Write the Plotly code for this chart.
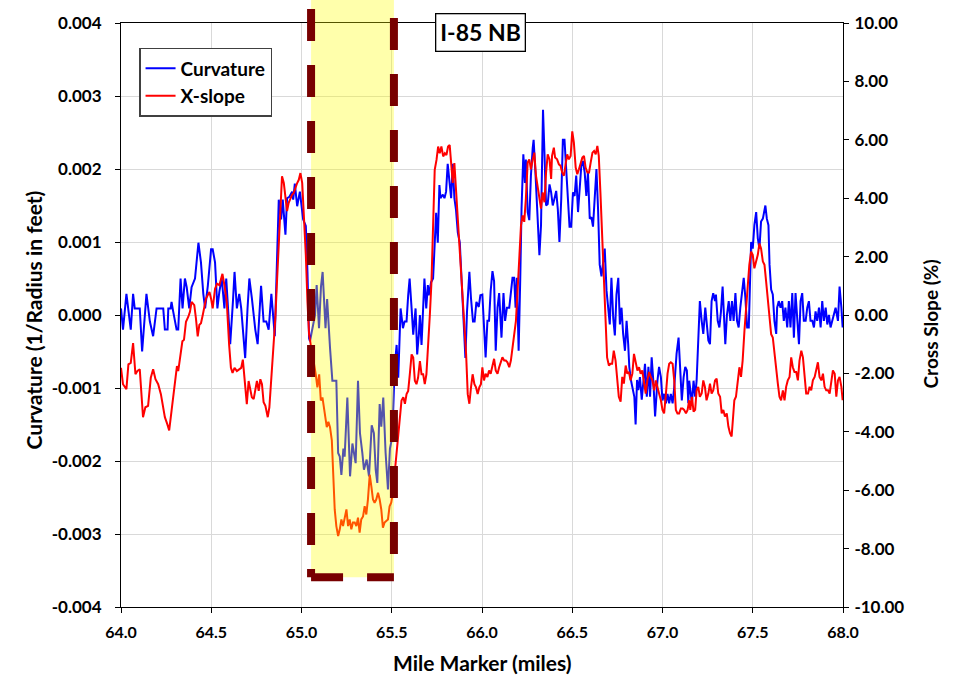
import plotly.graph_objects as go

# ---------------- data ----------------
mile_curv = [
    64.000, 64.011, 64.030, 64.054, 64.067, 64.076, 64.104, 64.117, 64.141, 64.160,
    64.178, 64.197, 64.234, 64.243, 64.258, 64.262, 64.275, 64.280, 64.289, 64.308,
    64.317, 64.330, 64.341, 64.354, 64.364, 64.378, 64.391, 64.410, 64.429, 64.443,
    64.456, 64.466, 64.481, 64.499, 64.508, 64.521, 64.534, 64.545, 64.558, 64.573,
    64.583, 64.605, 64.620, 64.629, 64.642, 64.655, 64.666, 64.688, 64.701, 64.711,
    64.725, 64.744, 64.757, 64.776, 64.790, 64.805, 64.818, 64.833, 64.852, 64.874,
    64.887, 64.896, 64.911, 64.920, 64.933, 64.948, 64.954, 64.963, 64.976, 64.991,
    65.009, 65.024, 65.033, 65.042, 65.047, 65.075, 65.084, 65.097, 65.108, 65.117,
    65.133, 65.142, 65.158, 65.171, 65.193, 65.203, 65.212, 65.221, 65.232, 65.239,
    65.254, 65.269, 65.282, 65.291, 65.300, 65.313, 65.324, 65.337, 65.346, 65.361,
    65.374, 65.389, 65.401, 65.411, 65.420, 65.433, 65.442, 65.453, 65.466, 65.479,
    65.490, 65.503, 65.516, 65.527, 65.536, 65.549, 65.562, 65.571, 65.582, 65.591,
    65.599, 65.610, 65.619, 65.632, 65.641, 65.650, 65.656, 65.665, 65.681, 65.691,
    65.700, 65.705, 65.718, 65.729, 65.737, 65.746, 65.755, 65.764, 65.770, 65.783,
    65.792, 65.801, 65.810, 65.820, 65.829, 65.838, 65.847, 65.856, 65.866, 65.877,
    65.889, 65.899, 65.908, 65.917, 65.930, 65.939, 65.950, 65.959, 65.969, 65.982,
    65.991, 66.002, 66.011, 66.020, 66.030, 66.039, 66.048, 66.058, 66.067, 66.076,
    66.086, 66.095, 66.108, 66.119, 66.128, 66.138, 66.151, 66.160, 66.169, 66.178,
    66.186, 66.193, 66.203, 66.212, 66.219, 66.229, 66.238, 66.243, 66.253, 66.262,
    66.271, 66.281, 66.286, 66.296, 66.309, 66.318, 66.327, 66.338, 66.346, 66.355,
    66.364, 66.374, 66.383, 66.392, 66.401, 66.411, 66.420, 66.429, 66.439, 66.448,
    66.457, 66.467, 66.476, 66.485, 66.494, 66.504, 66.513, 66.522, 66.532, 66.541,
    66.550, 66.559, 66.569, 66.578, 66.587, 66.597, 66.606, 66.615, 66.625, 66.634,
    66.643, 66.652, 66.662, 66.671, 66.680, 66.690, 66.699, 66.708, 66.717, 66.727,
    66.736, 66.745, 66.755, 66.764, 66.773, 66.782, 66.792, 66.801, 66.810, 66.816,
    66.825, 66.835, 66.844, 66.851, 66.859, 66.866, 66.875, 66.885, 66.894, 66.903,
    66.913, 66.922, 66.931, 66.940, 66.950, 66.959, 66.972, 66.981, 66.991, 67.000,
    67.009, 67.019, 67.028, 67.037, 67.046, 67.056, 67.065, 67.078, 67.089, 67.098,
    67.107, 67.117, 67.126, 67.135, 67.143, 67.148, 67.156, 67.163, 67.172, 67.181,
    67.189, 67.198, 67.207, 67.217, 67.226, 67.237, 67.244, 67.254, 67.263, 67.272,
    67.281, 67.291, 67.296, 67.306, 67.315, 67.324, 67.333, 67.343, 67.348, 67.357,
    67.367, 67.376, 67.385, 67.394, 67.404, 67.413, 67.422, 67.431, 67.441, 67.450,
    67.459, 67.469, 67.478, 67.485, 67.491, 67.500, 67.509, 67.519, 67.528, 67.537,
    67.546, 67.556, 67.565, 67.570, 67.578, 67.587, 67.593, 67.602, 67.611, 67.620,
    67.630, 67.635, 67.644, 67.654, 67.663, 67.672, 67.681, 67.691, 67.700, 67.709,
    67.719, 67.728, 67.737, 67.746, 67.756, 67.765, 67.774, 67.783, 67.793, 67.802,
    67.811, 67.820, 67.830, 67.839, 67.848, 67.857, 67.867, 67.876, 67.885, 67.894,
    67.904, 67.913, 67.922, 67.931, 67.941, 67.950, 67.959, 67.972, 67.981, 67.991,
    67.998,
]
curvature = [
    0.00009, -0.00020, 0.00029, -0.00020, 0.00029, 0.00009, 0.00009, -0.00050, 0.00029, -0.00009,
    -0.00029, 0.00009, 0.00009, -0.00020, -0.00020, 0.00009, 0.00009, 0.00018, 0.00005, -0.00020,
    -0.00020, 0.00050, 0.00009, 0.00050, 0.00038, 0.00009, 0.00038, 0.00050, 0.00099, 0.00072,
    0.00029, 0.00009, 0.00040, 0.00090, 0.00090, 0.00072, 0.00009, 0.00032, 0.00050, 0.00009,
    0.00050, -0.00040, 0.00018, 0.00059, 0.00009, 0.00029, 0.00009, -0.00059, 0.00009, 0.00050,
    0.00023, -0.00020, -0.00040, 0.00040, -0.00009, -0.00009, -0.00020, 0.00029, -0.00029, 0.00158,
    0.00131, 0.00158, 0.00110, 0.00160, 0.00162, 0.00169, 0.00158, 0.00180, 0.00149, 0.00169,
    0.00131, 0.00122, 0.00059, -0.00032, -0.00036, 0.00000, 0.00041, -0.00018, 0.00039, 0.00059,
    -0.00018, 0.00022, -0.00045, -0.00090, -0.00090, -0.00189, -0.00194, -0.00219, -0.00183, -0.00194,
    -0.00113, -0.00221, -0.00176, -0.00189, -0.00203, -0.00090, -0.00162, -0.00189, -0.00212, -0.00198,
    -0.00221, -0.00151, -0.00162, -0.00212, -0.00230, -0.00122, -0.00153, -0.00113, -0.00189, -0.00239,
    -0.00183, -0.00167, -0.00072, -0.00041, -0.00086, 0.00009, -0.00018, -0.00009, -0.00009, 0.00027,
    0.00050, 0.00009, -0.00027, 0.00009, -0.00054, -0.00027, 0.00000, -0.00041, 0.00050, 0.00009,
    0.00041, 0.00027, 0.00045, 0.00050, 0.00099, 0.00140, 0.00099, 0.00178, 0.00160, 0.00165,
    0.00160, 0.00169, 0.00207, 0.00183, 0.00160, 0.00207, 0.00160, 0.00144, 0.00113, 0.00099,
    0.00041, 0.00000, -0.00059, 0.00005, 0.00059, 0.00023, -0.00009, -0.00009, 0.00018, 0.00011,
    0.00027, 0.00028, -0.00013, -0.00058, -0.00008, -0.00008, 0.00033, 0.00060, 0.00046, -0.00049,
    0.00010, 0.00030, -0.00031, 0.00030, -0.00008, 0.00010, 0.00010, 0.00033, 0.00051, 0.00051,
    0.00010, 0.00051, -0.00049, 0.00051, 0.00145, 0.00220, 0.00181, 0.00213, 0.00141, 0.00130,
    0.00191, 0.00229, 0.00240, 0.00195, 0.00123, 0.00082, 0.00123, 0.00281, 0.00222, 0.00150,
    0.00152, 0.00179, 0.00168, 0.00150, 0.00159, 0.00170, 0.00145, 0.00100, 0.00159, 0.00240,
    0.00240, 0.00191, 0.00163, 0.00121, 0.00121, 0.00168, 0.00163, 0.00191, 0.00141, 0.00181,
    0.00204, 0.00211, 0.00195, 0.00163, 0.00195, 0.00132, 0.00134, 0.00121, 0.00168, 0.00200,
    0.00145, 0.00069, 0.00053, 0.00073, 0.00091, 0.00033, 0.00010, -0.00013, 0.00051, -0.00004,
    -0.00028, 0.00028, 0.00051, -0.00013, 0.00010, -0.00026, -0.00049, -0.00008, -0.00040, -0.00071,
    -0.00089, -0.00103, -0.00112, -0.00150, -0.00089, -0.00103, -0.00085, -0.00116, -0.00094, -0.00067,
    -0.00112, -0.00071, -0.00112, -0.00058, -0.00094, -0.00139, -0.00090, -0.00071, -0.00085, -0.00117,
    -0.00108, -0.00121, -0.00108, -0.00121, -0.00108, -0.00121, -0.00099, -0.00053, -0.00031, -0.00076,
    -0.00117, -0.00085, -0.00071, -0.00076, -0.00121, -0.00090, -0.00108, -0.00121, -0.00090, -0.00112,
    -0.00090, -0.00022, 0.00019, -0.00008, -0.00026, 0.00010, -0.00008, -0.00035, -0.00040, 0.00019,
    0.00030, 0.00019, 0.00028, -0.00008, -0.00017, 0.00005, 0.00039, -0.00008, -0.00040, 0.00000,
    0.00019, -0.00008, 0.00019, -0.00008, 0.00030, -0.00008, -0.00017, 0.00010, 0.00028, 0.00051,
    0.00024, -0.00017, -0.00017, 0.00046, 0.00100, 0.00091, 0.00123, 0.00141, 0.00105, 0.00091,
    0.00128, 0.00132, 0.00141, 0.00150, 0.00132, 0.00123, 0.00069, 0.00035, 0.00028, -0.00008,
    -0.00026, 0.00010, 0.00019, 0.00010, 0.00019, -0.00008, 0.00010, -0.00017, 0.00019, -0.00017,
    0.00030, -0.00031, 0.00030, -0.00008, -0.00040, 0.00019, 0.00030, -0.00008, -0.00008, 0.00010,
    0.00019, -0.00008, -0.00008, -0.00017, 0.00005, -0.00008, 0.00010, -0.00017, 0.00019, -0.00008,
    0.00010, -0.00013, 0.00000, -0.00017, -0.00008, 0.00000, 0.00010, -0.00008, 0.00039, 0.00010,
    -0.00017,
]

mile_xslope = [
    64.000, 64.011, 64.030, 64.041, 64.054, 64.067, 64.080, 64.091, 64.104, 64.113,
    64.122, 64.135, 64.150, 64.165, 64.178, 64.191, 64.206, 64.221, 64.234, 64.243,
    64.256, 64.267, 64.280, 64.289, 64.298, 64.310, 64.317, 64.328, 64.340, 64.349,
    64.360, 64.373, 64.382, 64.391, 64.406, 64.415, 64.425, 64.434, 64.443, 64.453,
    64.462, 64.471, 64.481, 64.490, 64.499, 64.508, 64.521, 64.532, 64.545, 64.555,
    64.562, 64.573, 64.586, 64.599, 64.609, 64.618, 64.629, 64.642, 64.655, 64.666,
    64.675, 64.688, 64.697, 64.707, 64.716, 64.725, 64.735, 64.744, 64.753, 64.763,
    64.772, 64.781, 64.790, 64.800, 64.813, 64.822, 64.833, 64.842, 64.855, 64.865,
    64.874, 64.883, 64.892, 64.902, 64.911, 64.920, 64.929, 64.939, 64.948, 64.957,
    64.967, 64.976, 64.985, 64.994, 65.004, 65.013, 65.024, 65.033, 65.042, 65.079,
    65.088, 65.098, 65.107, 65.116, 65.129, 65.140, 65.149, 65.158, 65.168, 65.175,
    65.184, 65.193, 65.203, 65.212, 65.221, 65.230, 65.239, 65.249, 65.258, 65.267,
    65.276, 65.285, 65.295, 65.304, 65.313, 65.322, 65.331, 65.341, 65.350, 65.359,
    65.368, 65.378, 65.387, 65.396, 65.405, 65.414, 65.424, 65.433, 65.442, 65.451,
    65.460, 65.470, 65.479, 65.488, 65.497, 65.506, 65.516, 65.527, 65.536, 65.545,
    65.554, 65.564, 65.573, 65.582, 65.591, 65.600, 65.610, 65.619, 65.628, 65.637,
    65.646, 65.656, 65.665, 65.674, 65.683, 65.692, 65.702, 65.711, 65.720, 65.729,
    65.738, 65.748, 65.757, 65.766, 65.775, 65.785, 65.794, 65.803, 65.812, 65.821,
    65.829, 65.838, 65.847, 65.856, 65.866, 65.877, 65.889, 65.902, 65.912, 65.921,
    65.930, 65.939, 65.948, 65.958, 65.967, 65.976, 65.985, 65.994, 66.002, 66.011,
    66.020, 66.030, 66.039, 66.048, 66.058, 66.067, 66.076, 66.086, 66.095, 66.104,
    66.113, 66.123, 66.132, 66.141, 66.151, 66.160, 66.169, 66.178, 66.188, 66.197,
    66.206, 66.216, 66.225, 66.234, 66.243, 66.253, 66.262, 66.271, 66.281, 66.290,
    66.299, 66.309, 66.318, 66.327, 66.336, 66.346, 66.355, 66.364, 66.374, 66.383,
    66.388, 66.398, 66.405, 66.416, 66.426, 66.435, 66.444, 66.454, 66.463, 66.472,
    66.481, 66.491, 66.500, 66.509, 66.519, 66.528, 66.537, 66.546, 66.556, 66.565,
    66.574, 66.584, 66.593, 66.602, 66.612, 66.621, 66.630, 66.639, 66.647, 66.656,
    66.665, 66.675, 66.684, 66.693, 66.703, 66.712, 66.721, 66.730, 66.740, 66.749,
    66.758, 66.768, 66.777, 66.786, 66.796, 66.805, 66.814, 66.823, 66.833, 66.842,
    66.851, 66.861, 66.870, 66.879, 66.888, 66.898, 66.907, 66.916, 66.926, 66.935,
    66.944, 66.954, 66.963, 66.981, 66.991, 67.000, 67.009, 67.019, 67.028, 67.037,
    67.046, 67.056, 67.065, 67.074, 67.083, 67.092, 67.102, 67.111, 67.120, 67.130,
    67.139, 67.148, 67.154, 67.163, 67.172, 67.181, 67.189, 67.198, 67.207, 67.217,
    67.226, 67.235, 67.244, 67.254, 67.263, 67.272, 67.281, 67.291, 67.300, 67.309,
    67.319, 67.328, 67.337, 67.346, 67.356, 67.365, 67.374, 67.383, 67.389, 67.398,
    67.407, 67.417, 67.426, 67.435, 67.444, 67.454, 67.463, 67.472, 67.481, 67.491,
    67.500, 67.509, 67.519, 67.528, 67.537, 67.546, 67.556, 67.565, 67.574, 67.583,
    67.593, 67.602, 67.611, 67.620, 67.630, 67.639, 67.648, 67.657, 67.667, 67.676,
    67.685, 67.694, 67.704, 67.713, 67.722, 67.731, 67.741, 67.750, 67.759, 67.769,
    67.778, 67.787, 67.796, 67.806, 67.815, 67.824, 67.833, 67.843, 67.852, 67.861,
    67.870, 67.880, 67.889, 67.898, 67.907, 67.917, 67.926, 67.935, 67.944, 67.954,
    67.963, 67.972, 67.981, 67.991, 67.998,
]
xslope = [
    -1.81, -2.37, -2.54, -1.69, -1.64, -0.96, -2.03, -1.92, -1.86, -2.60,
    -3.50, -3.16, -3.11, -2.15, -1.86, -2.20, -2.37, -2.71, -3.28, -3.50,
    -3.73, -3.95, -3.28, -2.82, -2.37, -1.75, -1.92, -1.36, -0.90, -0.85,
    -0.23, -0.06, 0.11, 0.45, 0.34, -0.11, -0.73, -0.34, -0.28, 0.00,
    0.23, 0.56, 0.68, 0.79, 0.56, 0.23, 0.90, 1.07, 1.02, 1.24,
    1.41, 1.02, 0.45, -1.02, -1.81, -1.98, -1.81, -1.92, -1.86, -1.81,
    -1.53, -2.37, -3.05, -2.26, -2.60, -2.82, -2.88, -2.49, -2.26, -2.60,
    -2.20, -2.37, -2.99, -3.11, -3.50, -3.16, -2.15, -1.47, -0.11, 1.24,
    2.60, 3.95, 4.75, 4.52, 4.07, 3.56, 3.84, 4.01, 4.12, 4.18,
    4.41, 4.52, 4.63, 4.86, 4.52, 3.50, 2.05, 0.46, -0.66, -2.03,
    -2.48, -2.03, -2.93, -2.82, -3.38, -3.84, -3.66, -3.84, -4.29, -5.42,
    -6.66, -7.23, -7.57, -7.34, -7.00, -7.23, -7.00, -6.66, -7.23, -7.00,
    -7.34, -7.11, -7.11, -7.23, -6.94, -7.45, -7.00, -6.90, -6.55, -6.83,
    -6.32, -5.47, -5.87, -6.32, -6.43, -6.32, -6.09, -6.32, -6.66, -7.28,
    -7.11, -7.05, -7.00, -6.55, -6.43, -6.09, -5.42, -4.74, -4.06, -3.27,
    -2.93, -2.82, -3.04, -2.71, -2.60, -2.03, -1.35, -1.46, -2.25, -2.37,
    -2.14, -1.58, -2.03, -2.03, -2.37, -2.03, -1.12, 0.00, 1.13, 2.83,
    4.97, 5.31, 5.77, 5.54, 5.77, 5.43, 5.54, 5.48, 5.77, 5.82,
    5.20, 4.52, 5.20, 4.30, 3.28, 2.05, 0.91, -0.45, -1.35, -2.71,
    -3.04, -2.48, -2.03, -2.37, -2.48, -2.71, -2.48, -2.37, -1.79, -2.24,
    -2.01, -2.12, -1.90, -2.01, -1.67, -1.50, -1.90, -2.01, -1.79, -1.62,
    -1.45, -1.56, -1.56, -1.62, -1.79, -1.56, -1.11, -0.77, -0.20, 0.81,
    2.17, 3.07, 3.41, 3.19, 3.98, 5.22, 5.33, 4.99, 5.33, 5.56,
    4.77, 4.32, 3.98, 3.64, 4.20, 3.86, 4.88, 5.50, 5.33, 4.66,
    5.45, 5.73, 5.39, 5.33, 5.16, 5.11, 4.88, 4.77, 5.16, 5.50,
    5.33, 5.45, 6.29, 5.90, 5.05, 4.82, 4.99, 5.16, 5.39, 5.45,
    5.05, 4.88, 4.88, 5.22, 5.56, 5.62, 5.50, 5.79, 5.45, 4.20,
    2.73, 1.27, -0.32, -1.45, -1.73, -1.67, -1.67, -1.22, -1.56, -2.24,
    -2.80, -2.97, -2.12, -2.35, -1.73, -2.01, -1.95, -2.24, -2.01, -1.33,
    -1.56, -1.90, -1.79, -2.01, -1.90, -2.35, -2.69, -2.24, -1.95, -2.12,
    -2.24, -2.58, -2.24, -2.69, -2.92, -3.25, -3.37, -2.69, -2.01, -1.67,
    -1.62, -1.67, -2.24, -3.25, -3.37, -3.37, -3.20, -3.20, -3.25, -3.37,
    -3.25, -2.92, -3.25, -2.80, -3.31, -3.25, -2.58, -2.46, -2.80, -2.69,
    -2.24, -2.46, -2.92, -2.69, -2.35, -2.69, -2.58, -2.24, -2.18, -2.69,
    -2.80, -3.37, -3.25, -3.48, -3.37, -3.82, -4.05, -4.16, -3.59, -2.92,
    -2.80, -2.24, -1.79, -2.12, -1.56, -0.54, 0.25, 1.04, 1.72, 2.17,
    2.06, 1.60, 1.83, 2.06, 2.45, 2.28, 1.83, 1.72, 1.15, 0.59,
    0.02, -0.66, -0.77, -1.33, -1.90, -2.35, -2.80, -2.92, -2.58, -2.92,
    -2.46, -2.24, -2.12, -1.45, -1.79, -1.95, -1.95, -2.24, -1.56, -1.22,
    -1.45, -2.24, -2.69, -2.69, -2.46, -2.58, -2.24, -2.12, -1.90, -1.62,
    -2.12, -2.24, -2.01, -2.46, -2.58, -2.58, -2.69, -2.24, -1.90, -2.01,
    -2.80, -2.24, -2.12, -2.46, -2.92,
]

x_ticks = [64.0, 64.5, 65.0, 65.5, 66.0, 66.5, 67.0, 67.5, 68.0]
x_tick_labels = ["64.0", "64.5", "65.0", "65.5", "66.0", "66.5", "67.0", "67.5", "68.0"]
curv_ticks = [-0.004, -0.003, -0.002, -0.001, 0.0, 0.001, 0.002, 0.003, 0.004]
curv_tick_labels = ["-0.004", "-0.003", "-0.002", "-0.001", "0.000", "0.001", "0.002", "0.003", "0.004"]
slope_ticks = [-10, -8, -6, -4, -2, 0, 2, 4, 6, 8, 10]
slope_tick_labels = ["-10.00", "-8.00", "-6.00", "-4.00", "-2.00", "0.00", "2.00", "4.00", "6.00", "8.00", "10.00"]
highlight_miles = [65.053, 65.512]   # highlighted section (mile markers)

# ---------------- figure ----------------
FONT = "Lato"
W, H = 959, 687
ML, MR, MT, MB = 121, 116, 18, 80
PH = H - MT - MB


def py(pix):
    """pixel row -> paper fraction (for the overlay shapes only)"""
    return (H - MB - pix) / PH


fig = go.Figure()
fig.add_trace(go.Scatter(x=mile_curv, y=curvature, name="Curvature", mode="lines",
                         line=dict(color="#0000FF", width=2), yaxis="y"))
fig.add_trace(go.Scatter(x=mile_xslope, y=xslope, name="X-slope", mode="lines",
                         line=dict(color="#FF0000", width=2), yaxis="y2"))

tickfont = dict(family=FONT, size=17, color="#000000", weight="bold")
axis_common = dict(showline=True, linecolor="#000000", linewidth=1, ticks="outside",
                   ticklen=5, tickcolor="#000000", zeroline=False)

fig.update_layout(
    width=W, height=H,
    margin=dict(l=ML, r=MR, t=MT, b=MB),
    paper_bgcolor="#FFFFFF", plot_bgcolor="#FFFFFF",
    showlegend=True,
    legend=dict(x=0.025, y=py(43), xanchor="left", yanchor="top",
                bgcolor="#FFFFFF", bordercolor="#404040", borderwidth=1.5,
                font=dict(family=FONT, size=19, color="#000000", weight="bold"),
                itemwidth=30, tracegroupgap=0),
    xaxis=dict(range=[64, 68], tickvals=x_ticks, ticktext=x_tick_labels,
               showgrid=True, gridcolor="#D9D9D9", gridwidth=1, mirror=True,
               tickfont=dict(family=FONT, size=16, color="#000000", weight="bold"),
               ticklabelstandoff=6, **axis_common),
    yaxis=dict(range=[-0.004, 0.004], tickvals=curv_ticks, ticktext=curv_tick_labels,
               showgrid=True, gridcolor="#D9D9D9", gridwidth=1,
               tickfont=tickfont, ticklabelstandoff=10, **axis_common),
    yaxis2=dict(range=[-10, 10], tickvals=slope_ticks, ticktext=slope_tick_labels,
                overlaying="y", side="right", showgrid=False,
                tickfont=tickfont, ticklabelstandoff=2, **axis_common),
)

fig.add_annotation(text="Mile Marker (miles)", x=0.5, y=py(663), xref="paper", yref="paper",
                   showarrow=False, font=dict(family=FONT, size=21, color="#000000", weight="bold"),
                   xanchor="center", yanchor="middle")
fig.add_annotation(text="Curvature (1/Radius in feet)", x=(33 - ML) / (W - ML - MR), y=py(318),
                   xref="paper", yref="paper", showarrow=False,
                   font=dict(family=FONT, size=21, color="#000000", weight="bold"), textangle=-90,
                   xanchor="center", yanchor="middle")
fig.add_annotation(text="Cross Slope (%)", x=(930 - ML) / (W - ML - MR), y=py(322),
                   xref="paper", yref="paper", showarrow=False,
                   font=dict(family=FONT, size=19, color="#000000", weight="bold"), textangle=-90,
                   xanchor="center", yanchor="middle")
fig.add_annotation(text="I-85 NB", x=(480 - ML) / (W - ML - MR), y=py(27.5), xref="paper", yref="paper",
                   showarrow=False, xanchor="center", yanchor="middle",
                   font=dict(family=FONT, size=23, color="#000000", weight="bold"),
                   bgcolor="#FFFFFF", bordercolor="#000000", borderwidth=1.3, borderpad=4)

x0, x1 = highlight_miles
maroon = "#780000"
dash = "32px,24px"
fig.add_shape(type="rect", xref="x", yref="paper", x0=x0, x1=x1, y0=py(577), y1=py(-6),
              fillcolor="rgba(255,255,0,0.33)", line=dict(width=0), layer="above")
fig.add_shape(type="line", xref="x", yref="paper", x0=x0, x1=x0, y0=py(4), y1=py(577),
              line=dict(color=maroon, width=8, dash=dash), layer="above")
fig.add_shape(type="line", xref="x", yref="paper", x0=x1, x1=x1, y0=py(13), y1=py(577),
              line=dict(color=maroon, width=8, dash=dash), layer="above")
fig.add_shape(type="line", xref="x", yref="paper", x0=x0, x1=x1, y0=py(577), y1=py(577),
              line=dict(color=maroon, width=8, dash=dash), layer="above")

fig.write_html("out.html")
